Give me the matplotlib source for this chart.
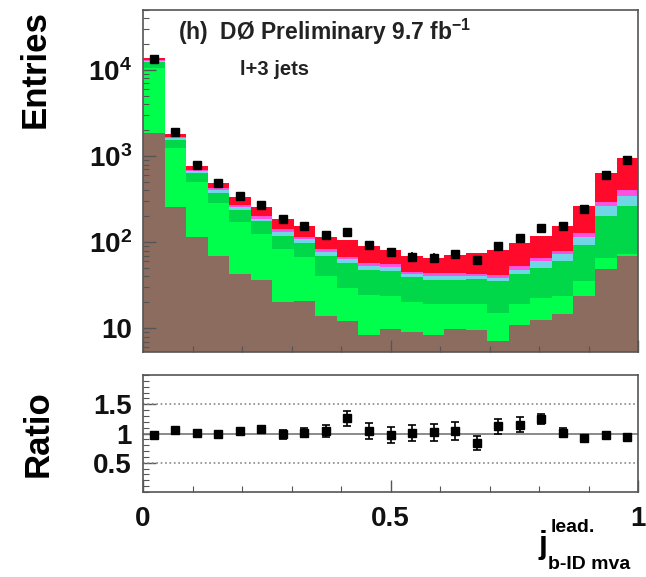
import numpy as np
import matplotlib
matplotlib.use("Agg")
import matplotlib.pyplot as plt
from matplotlib.ticker import FixedLocator, NullFormatter, MultipleLocator

plt.rcParams['font.family'] = ['Liberation Sans', 'DejaVu Sans']
plt.rcParams['mathtext.fontset'] = 'custom'
plt.rcParams['mathtext.rm'] = 'Liberation Sans'
plt.rcParams['mathtext.bf'] = 'Liberation Sans:bold'

# 23 bins of the leading-jet b-ID MVA output
n_bins = 23
edges = np.linspace(0.0, 1.0, n_bins + 1)

# stacked predictions, bottom to top
brown = [1866, 257, 115, 68, 42, 35, 19, 20, 13, 11, 7.3, 8.8, 8.1, 7.4, 8.8, 8.6, 6.1, 10, 11.6, 13.6, 22.8, 47.6, 68]
bright_green = [8774, 982, 391, 218, 130, 87, 64, 47, 26, 17, 15.8, 14, 11.1, 10.8, 9.4, 9.3, 8.0, 8.2, 9.7, 8.9, 11.3, 17.6, 3.2]
dark_green = [1850, 308, 138, 91, 65, 52, 35, 29, 30, 29, 24, 23, 18.7, 17.3, 17.3, 18.1, 20.4, 23.5, 28.3, 36.5, 57.7, 133, 188]
cyan = [330, 64, 21, 23, 20, 13, 13, 11, 7, 5, 4.6, 4.4, 3.8, 4.0, 4.0, 3.5, 2.9, 5.0, 9.4, 12.2, 23.4, 61, 80]
magenta = [360, 52, 27, 24, 14, 13, 12, 8, 6, 5, 4.3, 4.3, 2.6, 3.3, 3.6, 2.7, 3.7, 5.3, 4.9, 5.9, 13.1, 35, 61]
red = [720, 153, 85, 61, 60, 56, 44, 39, 33, 37, 33, 25, 23, 22, 27, 32.5, 39, 46, 54.5, 75.6, 136, 337, 547]

# observed events
data = [13480, 1920, 790, 485, 346, 274, 184, 156, 120, 131, 93, 77, 68, 66, 73, 62, 90, 113, 148, 155, 245, 612, 893]
ratio_err = [0.03, 0.035, 0.04, 0.045, 0.05, 0.06, 0.08, 0.08, 0.1, 0.13, 0.14, 0.135, 0.135,
             0.14, 0.15, 0.12, 0.13, 0.13, 0.09, 0.08, 0.05, 0.04, 0.035]

components = [brown, bright_green, dark_green, cyan, magenta, red]
colors = ['#8c6c5e', '#00ff4c', '#00d84a', '#6fd6e6', '#ff52e0', '#ff0a2a']

fig = plt.figure(figsize=(6.46, 5.77), dpi=100)
ax = fig.add_axes([0.2214, 0.39, 0.7663, 0.5927])
axr = fig.add_axes([0.2214, 0.1473, 0.7663, 0.2028])

width = edges[1] - edges[0]
bottom = np.ones(n_bins)
for vals, c in zip(components, colors):
    vals = np.array(vals, dtype=float)
    ax.bar(edges[:-1], vals, width=width, bottom=bottom, align='edge', color=c,
           edgecolor='none', linewidth=0)
    bottom = bottom + vals
mc_total = bottom - 1

centers = 0.5 * (edges[:-1] + edges[1:])
data = np.array(data, dtype=float)
ax.errorbar(centers, data, yerr=np.sqrt(data), fmt='s', color='black', ms=6,
            elinewidth=1.2, capsize=0)

ax.set_yscale('log')
ax.set_xlim(0, 1)
ax.set_ylim(5.3, 5.0e4)
ax.set_yticks([10, 100, 1000, 10000])
ax.set_yticklabels(['10', r'$\mathbf{10^{2}}$', r'$\mathbf{10^{3}}$', r'$\mathbf{10^{4}}$'])
ax.yaxis.set_minor_locator(FixedLocator([k * 10 ** e for e in range(0, 5) for k in range(2, 10)]))
ax.yaxis.set_minor_formatter(NullFormatter())
ax.xaxis.set_major_locator(MultipleLocator(0.5))
ax.xaxis.set_minor_locator(MultipleLocator(0.1))
ax.set_xticklabels([])
ax.set_ylabel('Entries', fontsize=25, fontweight='bold', loc='top', labelpad=26)

ax.text(0.07, 0.935, r'(h)  DØ Preliminary 9.7 fb$^{\mathbf{-1}}$', transform=ax.transAxes,
        fontsize=16.5, fontweight='bold', va='center', ha='left', color='#222222')
ax.text(0.195, 0.825, 'l+3 jets', transform=ax.transAxes, fontsize=14.5,
        fontweight='bold', va='center', ha='left', color='#222222')

# data / prediction
ratio = data / mc_total
axr.axhline(1.0, color='#777777', lw=1.2)
for lvl in (0.5, 1.5):
    axr.axhline(lvl, color='#888888', lw=1.2, ls=':')
axr.errorbar(centers, ratio, yerr=ratio_err, fmt='s', color='black', ms=5.5,
             elinewidth=1.2, capsize=3, capthick=1.2)
axr.set_xlim(0, 1)
axr.set_ylim(0, 2)
axr.set_yticks([0.5, 1, 1.5])
axr.set_yticklabels(['0.5', '1', '1.5'])
axr.yaxis.set_minor_locator(MultipleLocator(0.1))
axr.xaxis.set_major_locator(FixedLocator([0, 0.5, 1]))
axr.xaxis.set_minor_locator(MultipleLocator(0.1))
axr.set_xticklabels(['0', '0.5', '1'])
axr.set_ylabel('Ratio', fontsize=25, fontweight='bold', labelpad=28)

for a in (ax, axr):
    for s in a.spines.values():
        s.set_color('#555555')
        s.set_linewidth(1.2)
    a.tick_params(which='both', direction='in', top=False, right=False, color='#555555')
    a.tick_params(which='major', length=9, width=1)
    a.tick_params(which='minor', length=4.5, width=0.8)
    for lab in a.get_xticklabels() + a.get_yticklabels():
        lab.set_fontsize(20)
        lab.set_fontweight('bold')
        lab.set_color('#111111')
axr.tick_params(axis='x', pad=10)
axr.tick_params(axis='y', pad=8)
ax.tick_params(axis='y', pad=8)

# axis title for the b-ID output
fig.text(0.833, 0.056, 'j', fontsize=23, fontweight='bold', ha='left', va='center')
fig.text(0.852, 0.085, 'lead.', fontsize=14, fontweight='bold', ha='left', va='center')
fig.text(0.849, 0.022, 'b-ID mva', fontsize=14, fontweight='bold', ha='left', va='center')

fig.savefig('out.png', dpi=100)
